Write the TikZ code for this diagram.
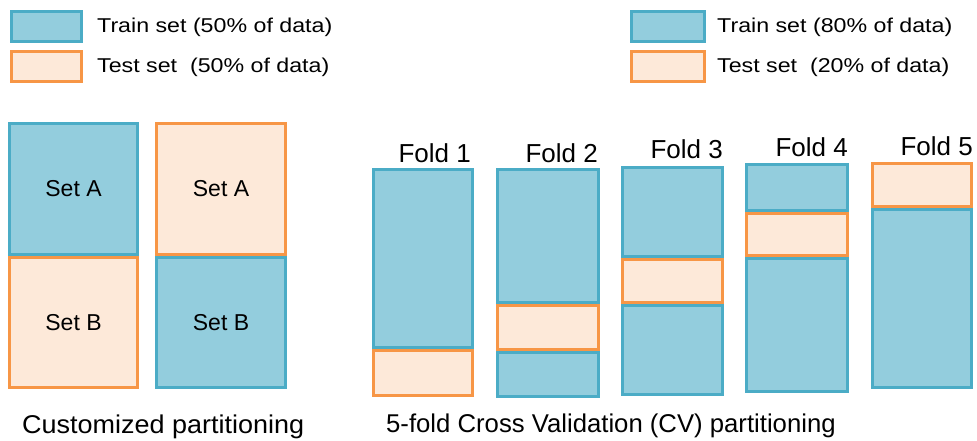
\documentclass[tikz,border=0pt]{standalone}
\usepackage{fontspec}
\setmainfont{Liberation Sans}
\newfontfamily\legendfont[FakeStretch=1.16]{Liberation Sans}
\newfontfamily\widecaptionfont[FakeStretch=1.05]{Liberation Sans}
\usetikzlibrary{fit}
\definecolor{trainfill}{HTML}{93CDDD}
\definecolor{trainline}{HTML}{4BACC6}
\definecolor{testfill}{HTML}{FDE9D9}
\definecolor{testline}{HTML}{F79646}
\tikzset{
  trainpart/.style={draw=trainline, fill=trainfill, line width=3pt, inner sep=0pt},
  testpart/.style={draw=testline, fill=testfill, line width=3pt, inner sep=0pt},
  legendtext/.style={anchor=west, inner sep=0pt, font=\legendfont\fontsize{20}{24}\selectfont},
  setlabel/.style={font=\fontsize{23}{27}\selectfont},
  foldlabel/.style={anchor=base east, inner sep=0pt, font=\fontsize{26}{30}\selectfont},
  caption/.style={anchor=base west, inner sep=0pt, font=\fontsize{25.7}{30}\selectfont}
}
% one rectangular block spanning two corner points on its border line
\newcommand{\seg}[6]{\node[#1, fit={(#3,#4) (#5,#6)}] (#2) {};}
\begin{document}
\begin{tikzpicture}[x=1pt, y=-1pt]
\useasboundingbox (0,0) rectangle (977,441);

% legend, 50/50 split
\seg{trainpart}{lgA}{11.5}{11.5}{81.5}{41.5}
\seg{testpart}{lgB}{11.5}{51.5}{81.5}{81.5}
\node[legendtext] (lgAt) at (97,27) {Train set (50\% of data)};
\node[legendtext] (lgBt) at (97,67) {Test set\ \ (50\% of data)};

% legend, 80/20 split
\seg{trainpart}{rgA}{631.5}{11.5}{704.5}{41.5}
\seg{testpart}{rgB}{631.5}{51.5}{704.5}{81.5}
\node[legendtext] (rgAt) at (717,27) {Train set (80\% of data)};
\node[legendtext] (rgBt) at (717,67) {Test set\ \ (20\% of data)};

% customized partitioning
\node[trainpart, fit={(9.5,123.5) (137.5,254.5)}] (c1a) {};
\node[setlabel] at (c1a.center) {Set A};
\node[testpart, fit={(9.5,257.5) (137.5,387.5)}] (c1b) {};
\node[setlabel] at (c1b.center) {Set B};
\node[testpart, fit={(156.5,123.5) (285.5,254.5)}] (c2a) {};
\node[setlabel] at (c2a.center) {Set A};
\node[trainpart, fit={(156.5,257.5) (285.5,387.5)}] (c2b) {};
\node[setlabel] at (c2b.center) {Set B};

% 5-fold cross validation
\seg{trainpart}{f1a}{373.5}{169.5}{472.5}{347.5}
\seg{testpart}{f1b}{373.5}{350.5}{472.5}{395.5}

\seg{trainpart}{f2a}{497.5}{169.5}{598.5}{302.5}
\seg{testpart}{f2b}{497.5}{305.5}{598.5}{349.5}
\seg{trainpart}{f2c}{497.5}{352.5}{598.5}{396.5}

\seg{trainpart}{f3a}{622.5}{167.5}{722.5}{256.5}
\seg{testpart}{f3b}{622.5}{259.5}{722.5}{302.5}
\seg{trainpart}{f3c}{622.5}{305.5}{722.5}{394.5}

\seg{trainpart}{f4a}{746.5}{164.5}{847.5}{210.5}
\seg{testpart}{f4b}{746.5}{213.5}{847.5}{255.5}
\seg{trainpart}{f4c}{746.5}{258.5}{847.5}{391.5}

\seg{testpart}{f5a}{872.5}{163.5}{971.5}{206.5}
\seg{trainpart}{f5b}{872.5}{209.5}{971.5}{387.5}

\node[foldlabel] (t1) at (471,162) {Fold 1};
\node[foldlabel] (t2) at (598,162) {Fold 2};
\node[foldlabel] (t3) at (723,158) {Fold 3};
\node[foldlabel] (t4) at (848,157) {Fold 4};
\node[foldlabel] (t5) at (973,155) {Fold 5};

% captions
\node[caption, font=\widecaptionfont\fontsize{25.7}{30}\selectfont] (cap1) at (22,433) {Customized partitioning};
\node[caption] (cap2) at (386,432) {5-fold Cross Validation (CV) partitioning};
\end{tikzpicture}
\end{document}
